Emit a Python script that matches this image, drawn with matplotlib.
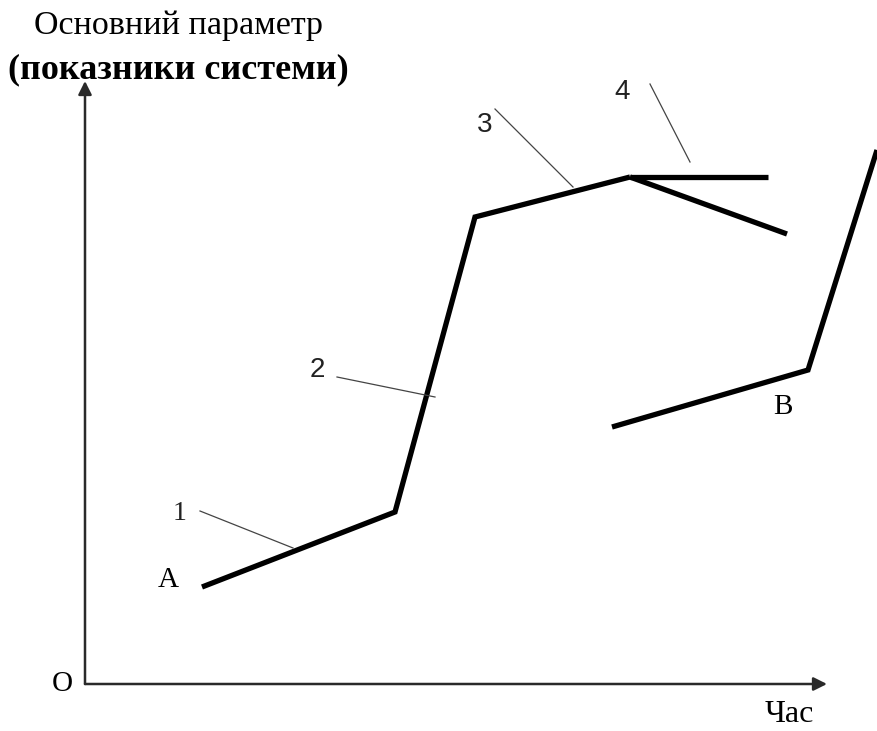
import matplotlib
matplotlib.use("Agg")
import matplotlib.pyplot as plt

# main curve A -> peak (pixel-like units, origin at the axes corner)
main_x = [117, 310, 390, 545]
main_y = [97, 172, 467, 507]
# two branches after the peak
branch1_x = [545, 683]
branch1_y = [507, 507]
branch2_x = [545, 702]
branch2_y = [507, 450]
# second curve ending at B and rising
second_x = [527, 723, 792]
second_y = [257, 314, 534]

# leader lines for the numbered stages
leaders = [
    ([115, 208], [173, 136]),
    ([252, 350], [307, 287]),
    ([410, 488], [575, 497]),
    ([565, 605], [600, 522]),
]
stage_labels = ["1", "2", "3", "4"]
stage_pos = [(95, 171), (232, 314), (400, 559), (537, 592)]

fig = plt.figure(figsize=(8.77, 7.31), dpi=100)
ax = fig.add_axes([0, 0, 1, 1])
ax.set_xlim(-85, 792)
ax.set_ylim(-47, 684)
ax.axis("off")

# axes with arrows
ax.annotate("", xy=(0, 603), xytext=(0, 0),
            arrowprops=dict(arrowstyle="-|>", lw=1.8, color="#2a2a2a", mutation_scale=20, shrinkA=0, shrinkB=0))
ax.annotate("", xy=(742, 0), xytext=(0, 0),
            arrowprops=dict(arrowstyle="-|>", lw=1.8, color="#2a2a2a", mutation_scale=20, shrinkA=0, shrinkB=0))

lw = 3.8
ax.plot(main_x, main_y, color="black", lw=lw, solid_joinstyle="miter", solid_capstyle="butt")
ax.plot(branch1_x, branch1_y, color="black", lw=lw, solid_capstyle="butt")
ax.plot(branch2_x, branch2_y, color="black", lw=lw, solid_capstyle="butt")
ax.plot(second_x, second_y, color="black", lw=lw, solid_joinstyle="miter", solid_capstyle="butt")

for lx, ly in leaders:
    ax.plot(lx, ly, color="#444444", lw=0.9)

serif = "Liberation Serif"
for lab, (px, py) in zip(stage_labels, stage_pos):
    fam = serif if lab == "1" else "Liberation Sans"
    ax.text(px, py, lab, fontsize=20, family=fam, ha="center", va="center", color="#222222")

ax.text(83, 104, "A", fontsize=21, family=serif, ha="center", va="center")
ax.text(698, 277, "B", fontsize=21, family=serif, ha="center", va="center")
ax.text(-23, 0, "O", fontsize=21, family=serif, ha="center", va="center")
ax.text(704, -30, "Час", fontsize=23, family=serif, ha="center", va="center")

ax.text(93, 658, "Основний параметр", fontsize=24.5, family=serif, ha="center", va="center")
ax.text(93, 614, "(показники системи)", fontsize=26, family=serif, fontweight="bold",
        ha="center", va="center")

fig.savefig("out.png", dpi=100)
